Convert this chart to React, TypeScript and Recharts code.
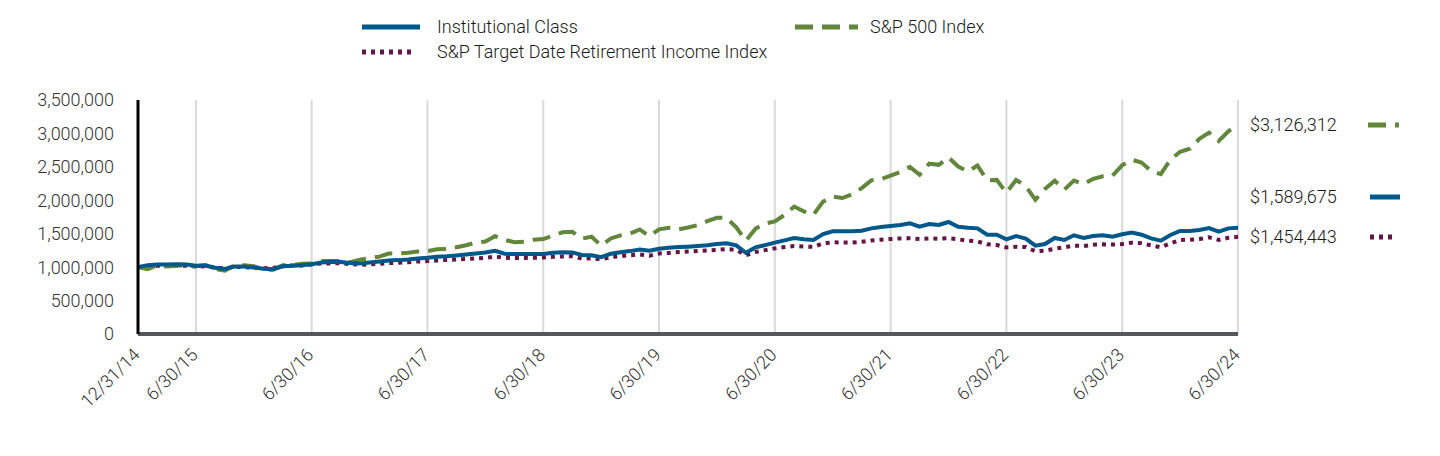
import { LineChart, Line, XAxis, YAxis, CartesianGrid } from 'recharts'

// month-end values, Dec 2014 .. Jun 2024 (thousands of $)
const institutional = [
  1000,
  1030, 1040, 1038, 1042, 1040, 1020, 1025, 990, 972, 1010, 1008, 995,
  975, 970, 1012, 1022, 1030, 1042, 1070, 1080, 1078, 1062, 1055, 1070,
  1085, 1100, 1105, 1115, 1130, 1140, 1155, 1162, 1175, 1190, 1205, 1218,
  1245, 1200, 1195, 1195, 1197, 1198, 1215, 1222, 1220, 1182, 1178, 1148,
  1200, 1222, 1240, 1265, 1245, 1276, 1290, 1300, 1306, 1315, 1326, 1345,
  1356, 1326, 1215, 1296, 1330, 1366, 1400, 1436, 1418, 1406, 1496, 1536,
  1535, 1538, 1546, 1580, 1600, 1615, 1630, 1656, 1605, 1645, 1630, 1675,
  1605, 1590, 1580, 1485, 1485, 1416, 1466, 1426, 1321, 1346, 1436, 1406,
  1476, 1436, 1466, 1476, 1456, 1491, 1516, 1485, 1431, 1396, 1481, 1541,
  1541, 1556, 1585, 1531, 1580, 1589.675,
]

const sp500 = [
  1000,
  970, 1025, 1009, 1019, 1032, 1012, 1033, 971, 947, 1027, 1030, 1014,
  963, 962, 1027, 1031, 1050, 1053, 1092, 1093, 1093, 1073, 1113, 1135,
  1157, 1203, 1204, 1216, 1233, 1241, 1267, 1271, 1297, 1327, 1368, 1383,
  1462, 1408, 1373, 1378, 1411, 1420, 1473, 1521, 1530, 1426, 1455, 1323,
  1429, 1475, 1503, 1564, 1463, 1566, 1589, 1563, 1593, 1628, 1687, 1738,
  1737, 1594, 1397, 1576, 1651, 1684, 1779, 1906, 1834, 1785, 1980, 2055,
  2034, 2091, 2182, 2298, 2314, 2368, 2425, 2498, 2381, 2547, 2530, 2643,
  2505, 2430, 2520, 2300, 2305, 2112, 2306, 2212, 2008, 2171, 2292, 2159,
  2295, 2240, 2322, 2359, 2369, 2525, 2606, 2564, 2441, 2390, 2608, 2725,
  2771, 2918, 3012, 2888, 3033, 3126.312,
]

const targetDate = [
  1000,
  1012, 1020, 1018, 1022, 1020, 1010, 1012, 990, 982, 1005, 1000, 992,
  985, 988, 1015, 1025, 1025, 1040, 1055, 1055, 1058, 1045, 1035, 1042,
  1050, 1062, 1065, 1072, 1085, 1090, 1100, 1108, 1115, 1122, 1132, 1140,
  1157, 1140, 1137, 1138, 1140, 1145, 1155, 1160, 1162, 1127, 1132, 1115,
  1150, 1165, 1178, 1190, 1170, 1205, 1212, 1225, 1235, 1242, 1250, 1258,
  1271, 1256, 1180, 1227, 1255, 1281, 1300, 1316, 1308, 1304, 1356, 1371,
  1370, 1368, 1380, 1400, 1410, 1421, 1430, 1432, 1420, 1430, 1425, 1435,
  1416, 1396, 1386, 1341, 1331, 1295, 1306, 1300, 1240, 1245, 1276, 1296,
  1321, 1316, 1336, 1341, 1338, 1346, 1366, 1356, 1326, 1296, 1356, 1406,
  1410, 1420, 1446, 1406, 1440, 1454.443,
]

const xTicks = ['12/31/14', '6/30/15', '6/30/16', '6/30/17', '6/30/18', '6/30/19', '6/30/20', '6/30/21', '6/30/22', '6/30/23', '6/30/24']
const yTicks = [0, 500000, 1000000, 1500000, 2000000, 2500000, 3000000, 3500000]

const endLabels = ['$3,126,312', '$1,589,675', '$1,454,443']

const BLUE = '#00578a'
const GREEN = '#62863b'
const PURPLE = '#641446'
const FONT = 'Roboto, "Noto Sans", sans-serif'
const FS = 18
const FW = 300

const monthEnds = [31, 28, 31, 30, 31, 30, 31, 31, 30, 31, 30, 31]
const dates: string[] = ['12/31/14']
for (let y = 15; y <= 24; y++) {
  for (let m = 1; m <= 12; m++) {
    if (y === 24 && m > 6) break
    const d = m === 2 && y % 4 === 0 ? 29 : monthEnds[m - 1]
    dates.push(`${m}/${d}/${y}`)
  }
}

const data = dates.map((date, i) => ({
  date,
  inst: Math.round(institutional[i] * 1000),
  sp: Math.round(sp500[i] * 1000),
  td: Math.round(targetDate[i] * 1000),
}))

const XTick = (props: any) => {
  const { x, y, payload } = props
  const tx = x + 3
  const ty = y + 14
  return (
    <text x={tx} y={ty} transform={`rotate(-45, ${tx}, ${ty})`} textAnchor="end" fill="#333" fontSize={FS} fontWeight={FW} fontFamily={FONT}>
      {payload.value}
    </text>
  )
}

const Swatch = ({ kind, width }: { kind: 'solid' | 'dash' | 'dot'; width: number }) => {
  const color = kind === 'solid' ? BLUE : kind === 'dash' ? GREEN : PURPLE
  const dash = kind === 'solid' ? undefined : kind === 'dash' ? '18 9' : '4 5'
  return (
    <svg width={width} height={10} style={{ display: 'block' }}>
      <line x1={0} y1={5} x2={width} y2={5} stroke={color} strokeWidth={5} strokeDasharray={dash} />
    </svg>
  )
}

const textStyle: React.CSSProperties = {
  position: 'absolute',
  fontFamily: FONT,
  fontSize: FS,
  fontWeight: FW,
  color: '#1a1a1a',
  lineHeight: '20px',
  whiteSpace: 'nowrap',
}

export default function App() {
  return (
    <div style={{ position: 'absolute', left: 0, top: 0, width: 1440, height: 456, background: '#fff' }}>
      {/* legend */}
      <div style={{ position: 'absolute', left: 362, top: 22 }}><Swatch kind="solid" width={58} /></div>
      <div style={{ ...textStyle, left: 437, top: 17 }}>Institutional Class</div>
      <div style={{ position: 'absolute', left: 795, top: 22 }}><Swatch kind="dash" width={63} /></div>
      <div style={{ ...textStyle, left: 870, top: 17 }}>S&amp;P 500 Index</div>
      <div style={{ position: 'absolute', left: 362, top: 47 }}><Swatch kind="dot" width={54} /></div>
      <div style={{ ...textStyle, left: 437, top: 42 }}>S&amp;P Target Date Retirement Income Index</div>

      <LineChart width={1440} height={456} data={data} margin={{ top: 100, right: 202, bottom: 42, left: 0 }}>
        <CartesianGrid horizontal={false} vertical stroke="#d9d9d9" strokeWidth={2} />
        <XAxis
          dataKey="date"
          ticks={xTicks}
          interval={0}
          tick={<XTick />}
          tickLine={false}
          axisLine={{ stroke: '#54575a', strokeWidth: 4 }}
          height={80}
        />
        <YAxis
          domain={[0, 3500000]}
          ticks={yTicks}
          interval={0}
          width={138}
          tickLine={false}
          axisLine={{ stroke: '#000', strokeWidth: 3 }}
          tickMargin={18}
          tick={{ fill: '#333', fontSize: FS, fontWeight: FW, fontFamily: FONT }}
          tickFormatter={(v: number) => v.toLocaleString('en-US')}
        />
        <Line type="linear" dataKey="td" stroke={PURPLE} strokeWidth={4} strokeDasharray="4 5" dot={false} isAnimationActive={false} />
        <Line type="linear" dataKey="sp" stroke={GREEN} strokeWidth={4} strokeDasharray="18 9" dot={false} isAnimationActive={false} />
        <Line type="linear" dataKey="inst" stroke={BLUE} strokeWidth={4} dot={false} isAnimationActive={false} />
      </LineChart>

      {/* ending values */}
      <div style={{ ...textStyle, left: 1250, top: 115 }}>{endLabels[0]}</div>
      <div style={{ position: 'absolute', left: 1368, top: 120 }}><Swatch kind="dash" width={31} /></div>
      <div style={{ ...textStyle, left: 1250, top: 187 }}>{endLabels[1]}</div>
      <div style={{ position: 'absolute', left: 1370, top: 192 }}><Swatch kind="solid" width={30} /></div>
      <div style={{ ...textStyle, left: 1250, top: 227 }}>{endLabels[2]}</div>
      <div style={{ position: 'absolute', left: 1370, top: 232 }}><Swatch kind="dot" width={26} /></div>
    </div>
  )
}
